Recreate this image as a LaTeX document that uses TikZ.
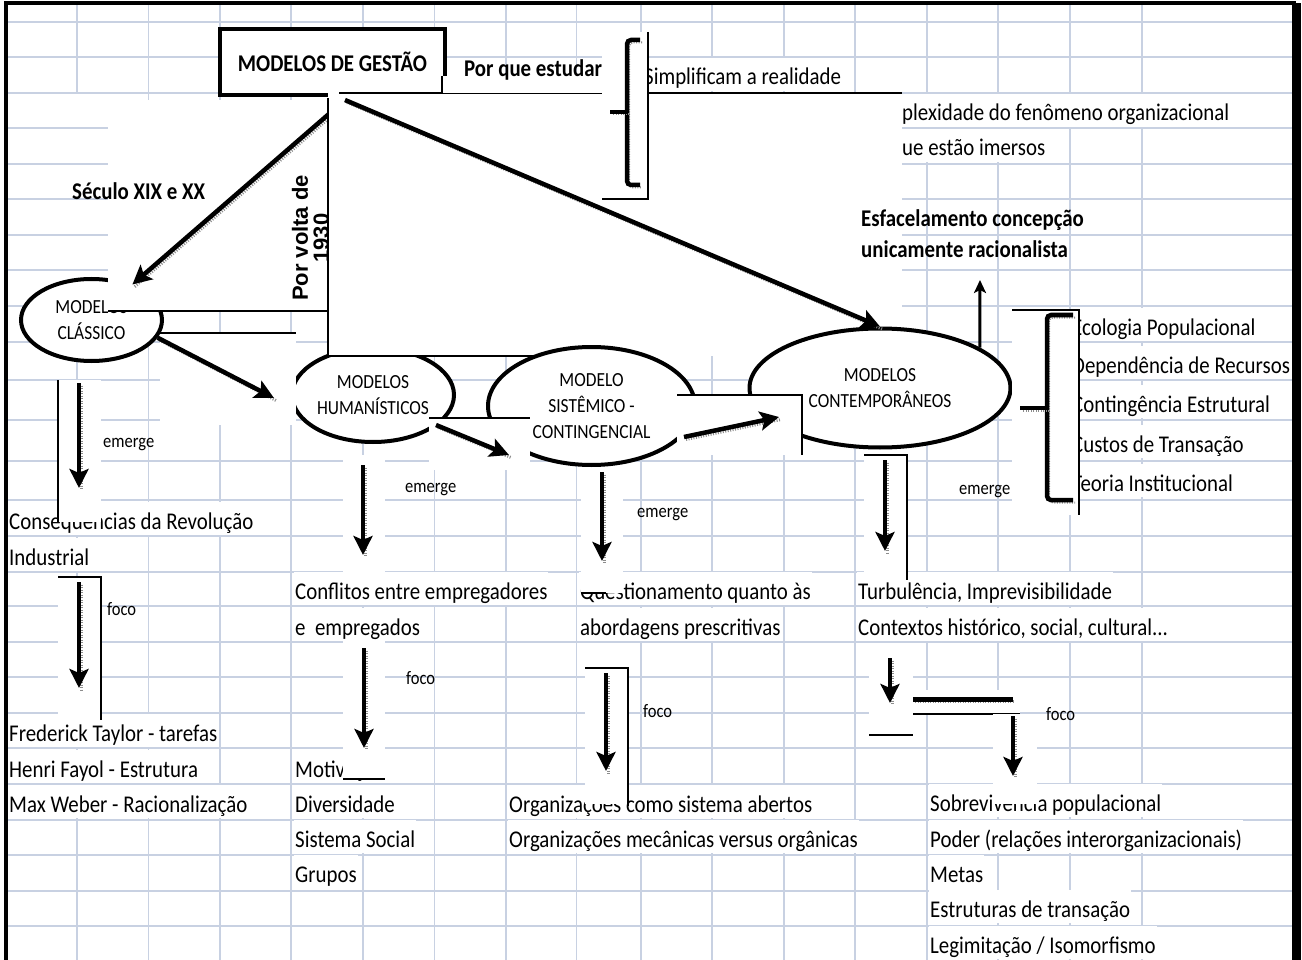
\documentclass[tikz,border=0pt]{standalone}
\usepackage{fontspec}
\setmainfont{Carlito}[FakeStretch=0.87]
\newfontfamily\arialfont{Liberation Sans}
\usetikzlibrary{arrows.meta,shapes.geometric,positioning}
\definecolor{gradeazul}{RGB}{200,209,226}

\begin{document}
\begin{tikzpicture}[x=1pt, y=-1pt,
    grade/.style={draw=gradeazul, line width=1.6pt},
    modelo/.style={ellipse, draw, line width=4pt, fill=white, inner sep=0pt, align=center, font=\fontsize{20}{26}\selectfont},
    titulo/.style={rectangle, draw, line width=4pt, fill=white, minimum width=225pt, minimum height=66pt, font=\bfseries\fontsize{24}{28}\selectfont},
    celula/.style={anchor=base west, fill=white, inner xsep=1pt, inner ysep=0pt, text height=27pt, text depth=6pt, font=\fontsize{24}{28}\selectfont},
    rotulo/.style={anchor=base west, inner sep=1pt, font=\bfseries\fontsize{24}{28}\selectfont},
    nota/.style={anchor=base west, inner sep=1pt, font=\fontsize{19}{22}\selectfont},
    tampa/.style={fill=white},
    fio/.style={line width=1.2pt},
    sombra/.style={preaction={draw=black!45, -, line width=#1, dash pattern=on 1pt off 1.5pt, transform canvas={shift={(2pt,-2.5pt)}}}},
    seta/.style={-{Stealth[length=19pt, width=19pt, inset=4pt]}, line width=4.5pt, sombra=3pt},
    setinha/.style={-{Stealth[length=13pt, width=12pt, inset=3pt]}, line width=3pt},
    chave/.style={line width=4.5pt, rounded corners=4pt, sombra=2pt},
  ]
  \useasboundingbox (0,0) rectangle (1302,960);

  % spreadsheet grid
  \foreach \gy in {22,57,93,128,164,199,235,270,306,342,380,420,461,500,536,572,606,642,677,713,748,784,820,855,891,926}
    \draw[grade] (5,\gy) -- (1294,\gy);
  \foreach \gx in {148.6,219.7,291.2,362.8,434.3,505.9,576.6,640.7,712.2,783.7,855.2,926.7,998.2,1069.7,1141.7}
    \draw[grade] (\gx,5) -- (\gx,960);
  \draw[grade] (77,5) -- (77,93) (77,311) -- (77,960);

  % frame
  \draw[line width=4pt] (5.5,1000) -- (5.5,3.5) -- (1296,3.5);
  \draw[line width=9pt] (1296,3.5) -- (1296,1000);

  % cell texts
  \node[celula] (simpl) at (643,85) {Simplificam a realidade};
  \node[celula] (plex) at (901,121) {plexidade do fenômeno organizacional};
  \node[celula] (imers) at (901,156) {ue estão imersos};
  \node[celula] (conseq) at (8,529) {Consequências da Revolução};
  \node[celula] (indus) at (8,565) {Industrial};
  \node[celula] (taylor) at (8,741) {Frederick Taylor - tarefas};
  \node[celula] (fayol) at (8,777) {Henri Fayol - Estrutura};
  \node[celula] (weber) at (8,812) {Max Weber - Racionalização};
  \node[celula] (confl) at (294,599) {Conflitos entre empregadores};
  \node[celula] (empreg) at (294,635) {e\ \ empregados};
  \node[celula] (motiv) at (294,777) {Motivação};
  \node[celula] (divers) at (294,812) {Diversidade};
  \node[celula] (social) at (294,847) {Sistema Social};
  \node[celula] (grupos) at (294,882) {Grupos};
  \node[celula] (quest) at (579,599) {Questionamento quanto às};
  \node[celula] (presc) at (579,635) {abordagens prescritivas};
  \node[celula] (abertos) at (508,812) {Organizações como sistema abertos};
  \node[celula] (mecan) at (508,847) {Organizações mecânicas versus orgânicas};
  \node[celula] (turb) at (857,599) {Turbulência, Imprevisibilidade};
  \node[celula] (contx) at (857,635) {Contextos histórico, social, cultural...};
  \node[celula] (sobrev) at (929,811) {Sobrevivência populacional};
  \node[celula] (poder) at (929,847) {Poder (relações interorganizacionais)};
  \node[celula] (metas) at (929,882) {Metas};
  \node[celula] (estrut) at (929,917) {Estruturas de transação};
  \node[celula] (legit) at (929,953) {Legimitação / Isomorfismo};
  \node[celula] (ecol) at (1071,335) {Ecologia Populacional};
  \node[celula] (depend) at (1071,373) {Dependência de Recursos};
  \node[celula] (conting) at (1071,412) {Contingência Estrutural};
  \node[celula] (custos) at (1071,452) {Custos de Transação};
  \node[celula] (teoria) at (1071,491) {Teoria Institucional};

  % first models
  \node[modelo, minimum width=141pt, minimum height=82pt] (classico) at (91.5,320) {MODELOS\\CLÁSSICO};
  \node[modelo, minimum width=162pt, minimum height=94pt] (human) at (373,395) {MODELOS\\HUMANÍSTICOS};

  % white boxes
  \fill[tampa] (108,100) rectangle (328,311);
  \draw[fio] (108,311) -- (328,311);
  \fill[tampa] (160,333) rectangle (296,425);
  \draw[fio] (160,333) -- (296,333);
  \fill[tampa] (58,380) rectangle (101,522);
  \draw[fio] (58,380) -- (58,522);
  \fill[tampa] (58,577) rectangle (101,720);
  \draw[fio] (58,577) -- (101,577) -- (101,720);
  \fill[tampa] (343,455) rectangle (385,575);
  \fill[tampa] (343,641) rectangle (385,779);
  \draw[fio] (343,779) -- (385,779);

  \node[titulo] (gestao) at (332.5,62) {MODELOS DE GESTÃO};
  \node[rotate=90, align=center, inner sep=0pt, font=\arialfont\bfseries\fontsize{22}{21}\selectfont] (volta) at (310.5,238) {Por volta de\\1930};

  \coordinate (hub) at (345,100);
  \draw[seta] (hub) -- (classico);

  % big white box
  \fill[tampa] (328,93) rectangle (902,356);
  \draw[fio] (339,93) -- (902,93);
  \draw[fio] (328,98) -- (328,356) -- (540,356);
  \fill[tampa] (442,76) rectangle (602,93);
  \draw[fio] (442,76) -- (442,93);

  % later models
  \node[modelo, minimum width=207pt, minimum height=118pt] (sistem) at (591.5,406) {MODELO\\SISTÊMICO -\\CONTINGENCIAL};
  \node[modelo, minimum width=261pt, minimum height=119pt] (contemp) at (880,388) {MODELOS\\CONTEMPORÂNEOS};

  \fill[tampa] (429,418) rectangle (530,470);
  \draw[fio] (429,418) -- (530,418);
  \fill[tampa] (677,395) rectangle (802,455);
  \draw[fio] (677,395) -- (802,395) -- (802,455);
  \fill[tampa] (864,455) rectangle (907,580);
  \draw[fio] (864,455) -- (907,455) -- (907,580);
  \fill[tampa] (581,470) rectangle (623,593);
  \draw[fio] (581,593) -- (606,593);
  \fill[tampa] (585,668) rectangle (628,804);
  \draw[fio] (585,668) -- (628,668) -- (628,806);
  \fill[tampa] (869,648) rectangle (913,735);
  \draw[fio] (869,735) -- (913,735);
  \fill[tampa] (913,690) rectangle (1020,714);
  \draw[fio] (913,714) -- (1020,714);
  \fill[tampa] (993,714) rectangle (1037,804);

  % arrows between models
  \coordinate (c2h) at (274,398);
  \coordinate (h2sA) at (436,425);
  \coordinate (h2sB) at (509,455);
  \coordinate (s2cA) at (684,437);
  \coordinate (s2cB) at (779,417);
  \draw[seta] (hub) -- (contemp.north);
  \draw[seta] (classico.-15) -- (c2h);
  \draw[seta] (h2sA) -- (h2sB);
  \draw[seta] (s2cA) -- (s2cB);

  % emerge / foco arrows
  \foreach \n/\ax/\ya/\yb in {1/79/383/488, 2/79/582/688, 3/363/465/555, 4/364/648/748,
      5/602/472/561, 6/606/673/771, 7/885/460/551, 8/890/658/703, 9/1013/716/776} {
    \coordinate (desce\n a) at (\ax,\ya);
    \coordinate (desce\n b) at (\ax,\yb);
    \draw[seta] (desce\n a) -- (desce\n b);
  }
  \coordinate (barA) at (913,699);
  \coordinate (barB) at (1013,699);
  \draw[line width=5pt, sombra=3pt] (barA) -- (barB);

  \node[nota] (em1) at (102,447) {emerge};
  \node[nota] (fo1) at (106,615) {foco};
  \node[nota] (em2) at (404,492) {emerge};
  \node[nota] (fo2) at (405,684) {foco};
  \node[nota] (em3) at (636,517) {emerge};
  \node[nota] (fo3) at (642,717) {foco};
  \node[nota] (em4) at (958,494) {emerge};
  \node[nota] (fo4) at (1045,720) {foco};

  % bold labels
  \node[rotulo] (porque) at (463,77) {Por que estudar};
  \node[rotulo] (seculo) at (71,200) {Século XIX e XX};
  \node[rotulo] (esfac) at (860,227) {Esfacelamento concepção};
  \node[rotulo] (racion) at (860,258) {unicamente racionalista};

  \coordinate (esfTip) at (980,280);
  \draw[setinha] (contemp.22) -- (esfTip);

  % braces
  \fill[tampa] (602,32) rectangle (648,199);
  \draw[fio] (648,32) -- (648,199) -- (602,199);
  \draw[chave] (640,40) -- (627,40) -- (627,185) -- (640,185);
  \draw[chave] (627,112) -- (610,112);
  \fill[tampa] (1012,310) rectangle (1079,515);
  \draw[fio] (1012,310) -- (1079,310) -- (1079,515);
  \draw[chave] (1073,315) -- (1047,315) -- (1047,500) -- (1073,500);
  \draw[chave] (1047,408) -- (1020,408);
\end{tikzpicture}
\end{document}
